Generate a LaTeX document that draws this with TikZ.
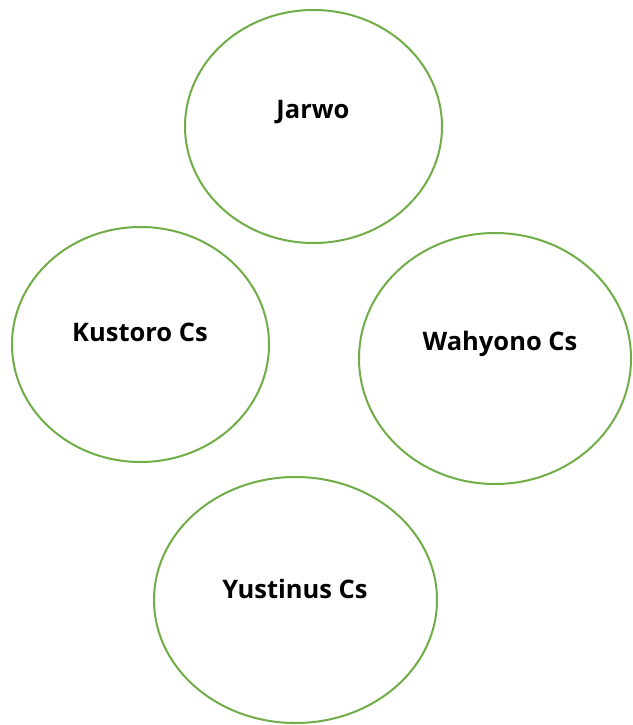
\documentclass[tikz,border=0pt]{standalone}
\usepackage{fontspec}
\setmainfont{Open Sans}
\usetikzlibrary{shapes.geometric}
\definecolor{ringgreen}{HTML}{70AD47}
\begin{document}
\begin{tikzpicture}[x=1pt,y=-1pt,
  ring/.style={ellipse, draw=ringgreen, line width=2pt, inner sep=0pt},
  lbl/.style={font=\bfseries\fontsize{25.5}{30}\selectfont, text=black, inner sep=0pt}]
\useasboundingbox[fill=white] (0,0) rectangle (632,725);
\node[ring, minimum width=257pt, minimum height=233pt] (jarwo) at (313.5,126.5) {};
\node[ring, minimum width=257pt, minimum height=235pt] (kustoro) at (140.5,344.5) {};
\node[ring, minimum width=272pt, minimum height=251pt] (wahyono) at (495,358.5) {};
\node[ring, minimum width=283pt, minimum height=246pt] (yustinus) at (295.5,600) {};
\node[lbl] (tj) at (313,112) {Jarwo};
\node[lbl] (tk) at (140,332) {Kustoro Cs};
\node[lbl] (tw) at (500,344) {Wahyono Cs};
\node[lbl] (ty) at (295,589) {Yustinus Cs};
\end{tikzpicture}
\end{document}
